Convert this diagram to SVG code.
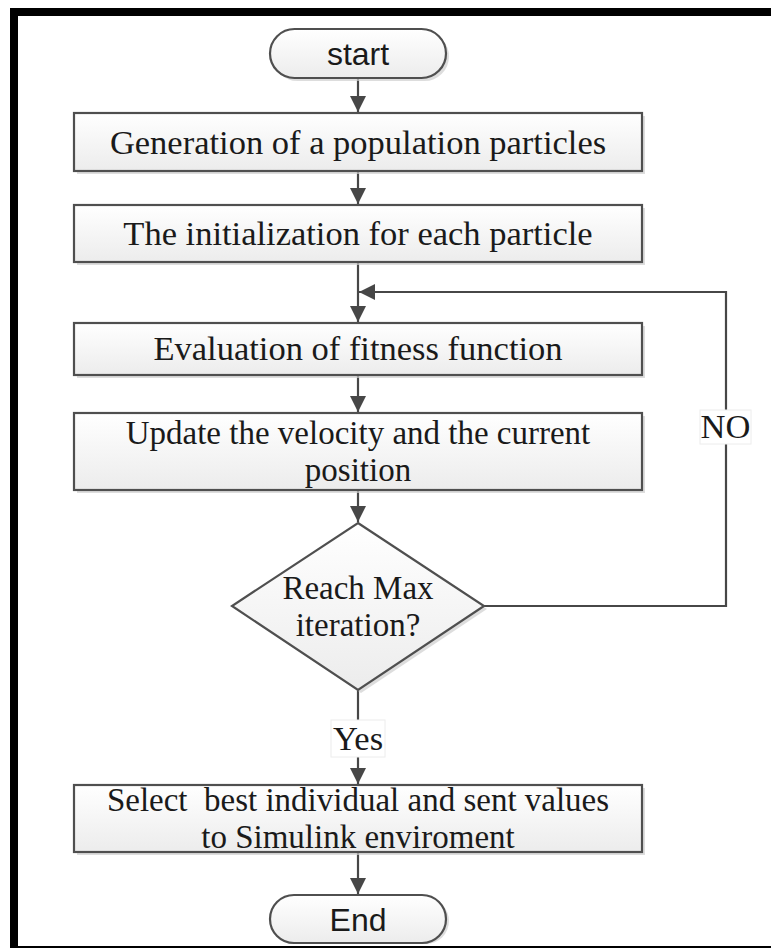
<svg xmlns="http://www.w3.org/2000/svg" width="771" height="948" viewBox="0 0 771 948">
<style>
.box{fill:url(#g);stroke:#4f4f4f;stroke-width:2.2}
.sh{fill:#cfcfcf;opacity:0.7}
.t{font-family:"Liberation Serif","Times New Roman",serif;font-size:34.5px;fill:#1a1a1a;text-anchor:middle}
.t2{font-size:33px}
.s{font-family:"Liberation Sans",Arial,sans-serif;font-size:32px;fill:#1a1a1a;text-anchor:middle}
.c{fill:none;stroke:#474747;stroke-width:2.2}
.lbl{fill:#fff;stroke:#ececec;stroke-width:1}
</style>
<defs>
<linearGradient id="g" x1="0" y1="0" x2="0" y2="1">
<stop offset="0" stop-color="#ffffff"/>
<stop offset="1" stop-color="#ececec"/>
</linearGradient>
<marker id="a" markerUnits="userSpaceOnUse" markerWidth="16" markerHeight="16" viewBox="0 0 10 10" refX="10" refY="5" orient="auto">
<path d="M0,0 L10,5 L0,10 z" fill="#474747"/>
</marker>
</defs>
<rect width="771" height="948" fill="#fff"/>
<rect x="10" y="8" width="761" height="8" fill="#000"/>
<rect x="10" y="8" width="8" height="940" fill="#000"/>
<rect x="10" y="946" width="761" height="2" fill="#000"/>

<g id="connectors">
<line class="c" x1="358" y1="78" x2="358" y2="112" marker-end="url(#a)"/>
<line class="c" x1="358" y1="171" x2="358" y2="204" marker-end="url(#a)"/>
<line class="c" x1="358" y1="262" x2="358" y2="322" marker-end="url(#a)"/>
<polyline class="c" points="484,606 726,606 726,292 359,292" marker-end="url(#a)"/>
<line class="c" x1="358" y1="375" x2="358" y2="412" marker-end="url(#a)"/>
<line class="c" x1="358" y1="490" x2="358" y2="522" marker-end="url(#a)"/>
<line class="c" x1="358" y1="690" x2="358" y2="784" marker-end="url(#a)"/>
<line class="c" x1="358" y1="852" x2="358" y2="894" marker-end="url(#a)"/>
<rect class="lbl" x="700" y="410" width="51" height="34"/>
<text class="t" x="725.5" y="438">NO</text>
<rect class="lbl" x="331" y="720" width="54" height="37"/>
<text class="t" x="358" y="750">Yes</text>
</g>

<g id="start">
<rect class="sh" x="273" y="32" width="176" height="49" rx="24.5"/>
<rect class="box" x="270" y="29" width="176" height="49" rx="24.5"/>
<text class="s" x="358" y="65">start</text>
</g>
<g id="generation">
<rect class="sh" x="77" y="116" width="568" height="58"/>
<rect class="box" x="74" y="113" width="568" height="58"/>
<text class="t" x="358" y="154">Generation of a population particles</text>
</g>
<g id="initialization">
<rect class="sh" x="77" y="208" width="568" height="57"/>
<rect class="box" x="74" y="205" width="568" height="57"/>
<text class="t" x="358" y="245">The initialization for each particle</text>
</g>
<g id="evaluation">
<rect class="sh" x="77" y="326" width="568" height="52"/>
<rect class="box" x="74" y="323" width="568" height="52"/>
<text class="t" x="358" y="360">Evaluation of fitness function</text>
</g>
<g id="update">
<rect class="sh" x="77" y="416" width="568" height="77"/>
<rect class="box" x="74" y="413" width="568" height="77"/>
<text class="t t2" x="358" y="444">Update the velocity and the current</text>
<text class="t t2" x="358" y="481">position</text>
</g>
<g id="decision">
<polygon class="sh" points="361,526 487,609 361,693 235,609"/>
<polygon class="box" points="358,523 484,606 358,690 232,606"/>
<text class="t t2" x="358" y="599">Reach Max</text>
<text class="t t2" x="358" y="636">iteration?</text>
</g>
<g id="select">
<rect class="sh" x="77" y="788" width="568" height="67"/>
<rect class="box" x="74" y="785" width="568" height="67"/>
<text class="t t2" x="358" y="811" xml:space="preserve">Select  best individual and sent values</text>
<text class="t t2" x="358" y="848">to Simulink enviroment</text>
</g>
<g id="end">
<rect class="sh" x="273" y="898" width="176" height="46" rx="23"/>
<rect class="box" x="270" y="895" width="176" height="48" rx="24"/>
<text class="s" x="358" y="931">End</text>
</g>
</svg>
